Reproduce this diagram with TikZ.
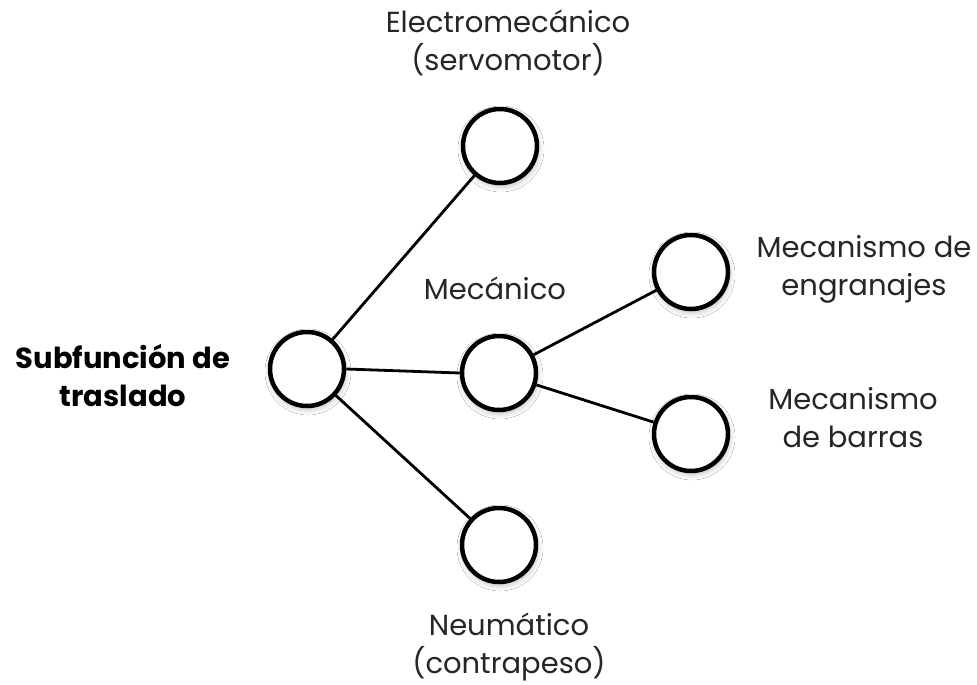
\documentclass[tikz,border=0pt]{standalone}
\usepackage{fontspec}
\setmainfont{Poppins}
\usetikzlibrary{shadows.blur}
\begin{document}
\begin{tikzpicture}[x=1pt,y=-1pt,
  circ/.style={circle,draw=black,line width=4.5pt,fill=white,minimum size=74pt,inner sep=0pt,
    blur shadow={shadow xshift=1pt,shadow yshift=-3pt,shadow blur radius=6pt,shadow opacity=30}},
  conn/.style={line width=2.8pt,black},
  lbl/.style={align=center,font=\fontsize{29}{38}\selectfont,text=black!85,inner sep=0pt},
  bold/.style={align=center,font=\fontsize{29}{38}\selectfont\bfseries,text=black,inner sep=0pt}]
\useasboundingbox (0,0) rectangle (977,685);
\fill[white] (0,0) rectangle (977,685);
\node[circ] (root) at (307,369) {};
\node[circ] (top) at (500,146) {};
\node[circ] (mid) at (499,373) {};
\node[circ] (bot) at (499,545) {};
\node[circ] (gear) at (691,272) {};
\node[circ] (bar) at (691,434) {};
\draw[conn] (root) -- (top);
\draw[conn] (root.east) -- (mid.west);
\draw[conn] (root) -- (bot);
\draw[conn] (mid) -- (gear);
\draw[conn] (mid) -- (bar);
\node[lbl] (t1) at (508,43) {Electromecánico\\(servomotor)};
\node[lbl] (t2) at (495,288) {Mecánico};
\node[lbl] (t3) at (864,269) {Mecanismo de\\engranajes};
\node[lbl] (t4) at (853,418) {Mecanismo\\de barras};
\node[lbl] (t5) at (509,647) {Neumático\\(contrapeso)};
\node[bold] (t6) at (123,376) {Subfunción de\\traslado};
\end{tikzpicture}
\end{document}
